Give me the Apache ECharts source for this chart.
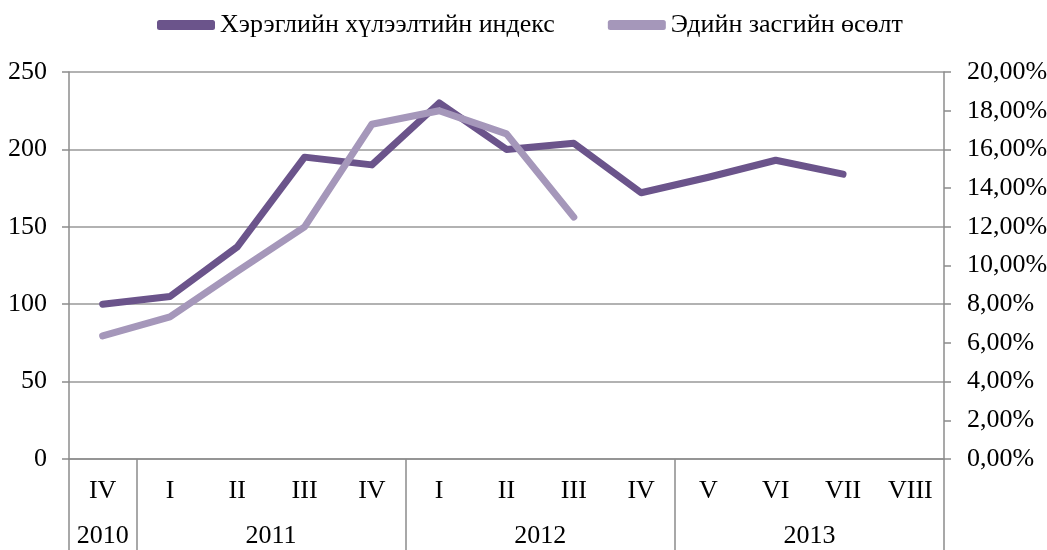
<!DOCTYPE html>
<html>
<head>
<meta charset="utf-8">
<script src="https://cdn.jsdelivr.net/npm/echarts@6/dist/echarts.min.js"></script>
<style>
	html, body { margin: 0; padding: 0; background: #fff; }
	#main { width: 1047px; height: 550px; }
</style>
</head>
<body>
<div id="main"></div>
<script>
	// quarters on the x axis, years as the second row
	var quarters = ['IV', 'I', 'II', 'III', 'IV', 'I', 'II', 'III', 'IV', 'V', 'VI', 'VII', 'VIII'];
	var years = ['2010', '2011', '2012', '2013'];
	var yearBounds = [0, 1, 5, 9, 13];      // category index where each year starts / ends
	var yearCenters = [0.5, 3, 7, 11];

	var indexName = 'Хэрэглийн хүлээлтийн индекс';
	var growthName = 'Эдийн засгийн өсөлт';
	var indexValues = [100, 105, 137, 195, 190, 230, 200, 204, 172, 182, 193, 184, null];
	var growthValues = [0.0636, 0.0735, 0.097, 0.120, 0.173, 0.180, 0.168, 0.125, null, null, null, null, null];

	var font = 'Liberation Serif';
	var fs = 26;
	var axisColor = '#8c8c8c';

	var chart = echarts.init(document.getElementById('main'));
	var option = {
		animation: false,
		textStyle: { fontFamily: font },
		legend: {
			top: 7,
			left: 152,
			itemWidth: 58,
			itemHeight: 10,
			itemGap: 53,
			icon: 'roundRect',
			textStyle: { fontFamily: font, fontSize: fs, color: '#000' },
			data: [indexName, growthName]
		},
		grid: { left: 69, right: 103, top: 72, bottom: 91, outerBoundsMode: 'none', containLabel: false },
		xAxis: [
			{
				type: 'category',
				data: quarters,
				boundaryGap: true,
				axisLine: { lineStyle: { color: axisColor, width: 1.5 } },
				axisTick: { interval: 0, length: 47, lineStyle: { color: axisColor, width: 1.5 } },
				axisLabel: { interval: 0, margin: 19, fontSize: fs, color: '#000', fontFamily: font }
			},
			{
				type: 'value',
				position: 'bottom',
				min: 0,
				max: 13,
				axisLine: { show: false },
				splitLine: { show: false },
				axisTick: { show: true, customValues: yearBounds, length: 91, lineStyle: { color: axisColor, width: 1.5 } },
				axisLabel: {
					customValues: yearCenters,
					margin: 64,
					fontSize: fs,
					color: '#000',
					fontFamily: font,
					formatter: function (v) {
						return years[yearCenters.indexOf(v)];
					}
				}
			}
		],
		yAxis: [
			{
				type: 'value',
				min: 0,
				max: 250,
				interval: 50,
				axisLine: { show: true, lineStyle: { color: axisColor, width: 1.5 } },
				axisTick: { show: true, length: 7, lineStyle: { color: axisColor, width: 1.5 } },
				splitLine: { lineStyle: { color: '#999', width: 1.5 } },
				axisLabel: { margin: 22, fontSize: fs, color: '#000', fontFamily: font }
			},
			{
				type: 'value',
				min: 0,
				max: 0.2,
				interval: 0.02,
				position: 'right',
				axisLine: { show: true, lineStyle: { color: axisColor, width: 1.5 } },
				axisTick: { show: true, length: 7, lineStyle: { color: axisColor, width: 1.5 } },
				splitLine: { show: false },
				axisLabel: {
					margin: 23,
					fontSize: fs,
					color: '#000',
					fontFamily: font,
					formatter: function (v) {
						return (v * 100).toFixed(2).replace('.', ',') + '%';
					}
				}
			}
		],
		series: [
			{
				name: indexName,
				type: 'line',
				xAxisIndex: 0,
				yAxisIndex: 0,
				data: indexValues,
				showSymbol: false,
				symbol: 'none',
				itemStyle: { color: '#6b548b' },
				lineStyle: { color: '#6b548b', width: 7, cap: 'round', join: 'round' }
			},
			{
				name: growthName,
				type: 'line',
				xAxisIndex: 0,
				yAxisIndex: 1,
				data: growthValues,
				showSymbol: false,
				symbol: 'none',
				itemStyle: { color: '#a597ba' },
				lineStyle: { color: '#a597ba', width: 7, cap: 'round', join: 'round' }
			}
		]
	};
	chart.setOption(option);
</script>
</body>
</html>
